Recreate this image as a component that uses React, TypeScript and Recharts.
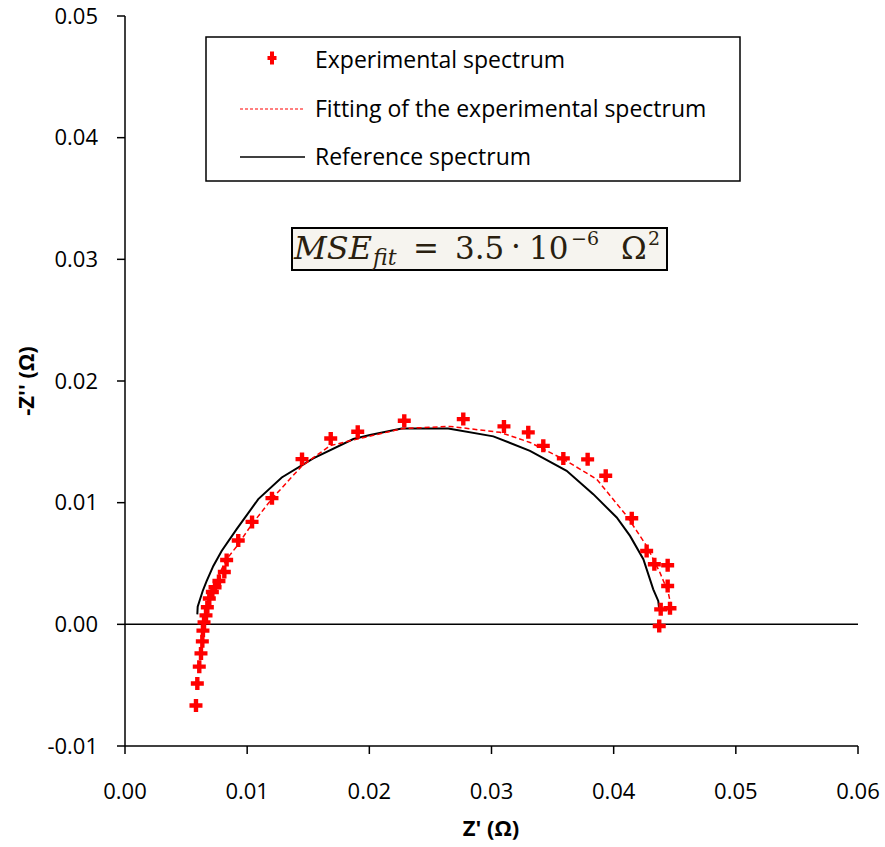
import React from 'react';
import { ScatterChart, Scatter, XAxis, YAxis, ReferenceLine } from 'recharts';

// Experimental spectrum (Z', -Z'')
const expX = [0.00581, 0.00592, 0.00608, 0.00622, 0.00633, 0.00638, 0.00647, 0.00663, 0.00674, 0.0069, 0.00715, 0.00737, 0.00769, 0.00813, 0.00832, 0.00927, 0.0104, 0.01203, 0.01449, 0.01684, 0.01905, 0.02286, 0.02769, 0.03102, 0.03301, 0.03424, 0.03588, 0.03787, 0.03935, 0.04148, 0.0427, 0.04333, 0.04442, 0.04442, 0.04461, 0.04385, 0.04373];
const expY = [-0.00667, -0.00486, -0.00348, -0.00239, -0.0014, -0.00052, 0.00016, 0.00074, 0.0014, 0.00212, 0.00266, 0.00305, 0.00356, 0.0043, 0.00529, 0.00689, 0.00842, 0.01037, 0.01358, 0.01528, 0.01583, 0.01673, 0.01687, 0.01627, 0.01578, 0.01467, 0.01364, 0.01356, 0.01221, 0.00872, 0.00603, 0.00494, 0.00486, 0.00315, 0.00132, 0.00123, -0.00014];

// Fitting of the experimental spectrum
const fitX = [0.00638, 0.00663, 0.00696, 0.00753, 0.00827, 0.00914, 0.01037, 0.01201, 0.01446, 0.01678, 0.01923, 0.02278, 0.0266, 0.0307, 0.03315, 0.03588, 0.03861, 0.04107, 0.0427, 0.04379, 0.04447, 0.04475];
const fitY = [-0.0006, 0.0009, 0.0023, 0.0037, 0.0053, 0.0064, 0.0082, 0.0103, 0.013, 0.01468, 0.01528, 0.0161, 0.01627, 0.01578, 0.01495, 0.01358, 0.01193, 0.00891, 0.00644, 0.00425, 0.00261, 0.00123];

// Reference spectrum
const refX = [0.00592, 0.00595, 0.00636, 0.00668, 0.00723, 0.00791, 0.00914, 0.01091, 0.01283, 0.01541, 0.01869, 0.02005, 0.02265, 0.02646, 0.03015, 0.03315, 0.03615, 0.03833, 0.04025, 0.04134, 0.04243, 0.04324, 0.04365, 0.04373];
const refY = [0.00082, 0.00146, 0.00274, 0.00356, 0.0048, 0.00603, 0.00782, 0.01029, 0.01207, 0.01364, 0.01523, 0.01556, 0.0161, 0.0161, 0.01545, 0.01426, 0.01262, 0.0107, 0.00878, 0.00727, 0.00535, 0.00288, 0.00192, 0.00123];

const xTicks = [0, 0.01, 0.02, 0.03, 0.04, 0.05, 0.06];
const yTicks = [-0.01, 0, 0.01, 0.02, 0.03, 0.04, 0.05];

const legendLabels = ['Experimental spectrum', 'Fitting of the experimental spectrum', 'Reference spectrum'];

const zip = (xs: number[], ys: number[]) => xs.map((x, i) => ({ x, y: ys[i] }));
const expData = zip(expX, expY);
const fitData = zip(fitX, fitY);
const refData = zip(refX, refY);

const FONT = '"Open Sans", sans-serif';
const SERIF = '"DejaVu Serif", "Liberation Serif", serif';

const Plus = (props: any) => {
  const { cx, cy } = props;
  if (cx == null || cy == null) return <g />;
  const a = 6.5, t = 2.2;
  return (
    <path
      d={`M${cx - a},${cy - t}H${cx - t}V${cy - a}H${cx + t}V${cy - t}H${cx + a}V${cy + t}H${cx + t}V${cy + a}H${cx - t}V${cy + t}H${cx - a}Z`}
      fill="#ff0000"
    />
  );
};

const NoShape = () => <g />;

const fmt = (v: number) => v.toFixed(2);

export default function App() {
  return (
    <div style={{ position: 'absolute', left: 0, top: 0, width: 885, height: 847, background: '#fff' }}>
      <ScatterChart width={885} height={847} margin={{ top: 16, right: 27, left: 0, bottom: 0 }}>
        <XAxis
          type="number"
          dataKey="x"
          domain={[0, 0.06]}
          ticks={xTicks}
          tickFormatter={fmt}
          height={101}
          stroke="#000"
          strokeWidth={1.5}
          tickSize={8}
          tickMargin={29}
          tick={{ fill: '#000', fontSize: 22, fontFamily: FONT }}
          allowDataOverflow
          label={{
            content: () => (
              <text x={491} y={836} textAnchor="middle" fontFamily={FONT} fontSize={22} fontWeight="bold" fill="#000">
                Z' (Ω)
              </text>
            ),
          }}
        />
        <YAxis
          type="number"
          dataKey="y"
          domain={[-0.01, 0.05]}
          ticks={yTicks}
          tickFormatter={fmt}
          width={125}
          stroke="#000"
          strokeWidth={1.5}
          tickSize={8}
          tickMargin={19}
          tick={{ fill: '#000', fontSize: 22, fontFamily: FONT }}
          allowDataOverflow
          label={{
            content: () => (
              <text transform="translate(34,381) rotate(-90)" textAnchor="middle" fontFamily={FONT} fontSize={22} fontWeight="bold" fill="#000">
                -Z'' (Ω)
              </text>
            ),
          }}
        />
        <ReferenceLine y={0} stroke="#000" strokeWidth={1.5} />
        <Scatter
          data={refData}
          line={{ stroke: '#000', strokeWidth: 2 }}
          shape={NoShape}
          isAnimationActive={false}
        />
        <Scatter
          data={fitData}
          line={{ stroke: '#ff0000', strokeWidth: 1.5, strokeDasharray: '5 3' }}
          shape={NoShape}
          isAnimationActive={false}
        />
        <Scatter data={expData} shape={Plus} fill="#ff0000" isAnimationActive={false} />
      </ScatterChart>
      <svg width={885} height={847} style={{ position: 'absolute', left: 0, top: 0, pointerEvents: 'none' }}>
        <rect x={206} y={37} width={534} height={144} fill="#fff" stroke="#000" strokeWidth={1.5} />
        <path d="M267.5,58H270V53.5H274V58H276.5V62H274V66.5H270V62H267.5Z" fill="#ff0000" transform="translate(0,-2)" />
        <line x1={240} y1={109} x2={305} y2={109} stroke="#ff0000" strokeWidth={1.2} strokeDasharray="3 2" />
        <line x1={240} y1={157} x2={305} y2={157} stroke="#000" strokeWidth={1.5} />
        <text x={315} y={68} fontFamily={FONT} fontSize={23} fill="#000">{legendLabels[0]}</text>
        <text x={315} y={117} fontFamily={FONT} fontSize={23} fill="#000">{legendLabels[1]}</text>
        <text x={315} y={165} fontFamily={FONT} fontSize={23} fill="#000">{legendLabels[2]}</text>
        <rect x={292} y={228} width={375} height={42} fill="#f6f4ef" stroke="#000" strokeWidth={2} />
        <g fontFamily={SERIF} fill="#2a1f10">
          <text x={294} y={259} fontSize={31} fontStyle="italic" textLength={78} lengthAdjust="spacingAndGlyphs">MSE</text>
          <text x={373} y={265} fontSize={22} fontStyle="italic">fit</text>
          <text x={413} y={259} fontSize={31}>=</text>
          <text x={455} y={259} fontSize={31}>3.5</text>
          <text x={511} y={257} fontSize={31}>·</text>
          <text x={529} y={259} fontSize={31}>10</text>
          <text x={571} y={245} fontSize={19}>−6</text>
          <text x={621} y={259} fontSize={31}>Ω</text>
          <text x={648} y={245} fontSize={19}>2</text>
        </g>
      </svg>
    </div>
  );
}
